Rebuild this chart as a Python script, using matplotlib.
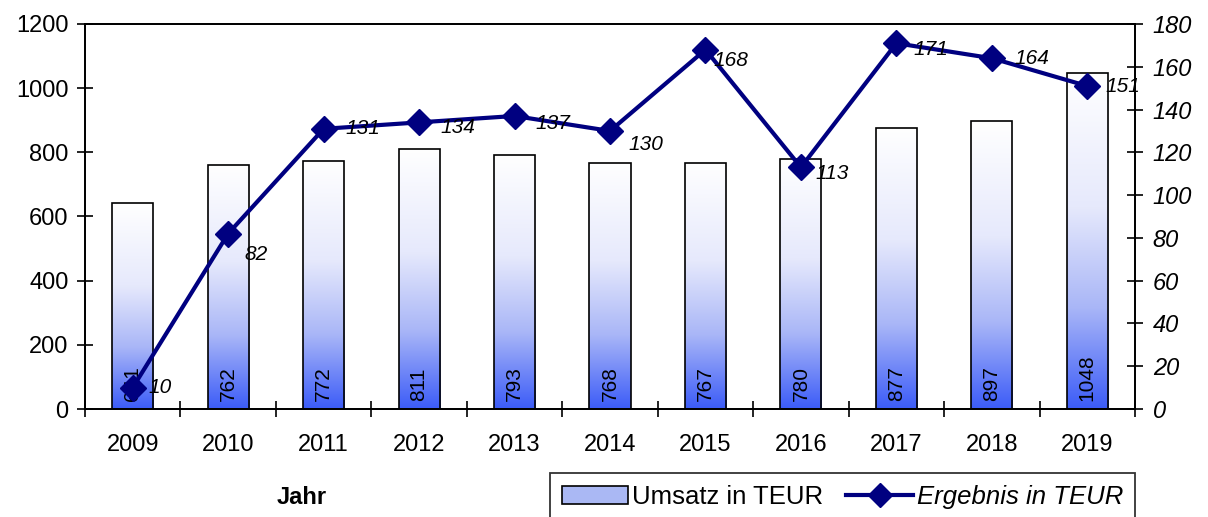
import matplotlib
matplotlib.use("Agg")
import matplotlib.pyplot as plt
import numpy as np
from matplotlib.colors import LinearSegmentedColormap
from matplotlib.patches import Patch
from matplotlib.lines import Line2D

plt.rcParams['font.family'] = ['Liberation Sans', 'DejaVu Sans']

years = ['2009', '2010', '2011', '2012', '2013', '2014', '2015', '2016', '2017', '2018', '2019']
umsatz = [641, 762, 772, 811, 793, 768, 767, 780, 877, 897, 1048]
ergebnis = [10, 82, 131, 134, 137, 130, 168, 113, 171, 164, 151]

# label offsets from marker centre, in pixels (dx to label left edge, dy downwards)
label_dx = [16, 16, 22, 21, 21, 18, 8, 15, 17, 23, 18]
label_dy = [0, 21, 0, 5, 8, 14, 11, 6, 6, 0, 0]

W, H = 1208, 517
fig = plt.figure(figsize=(W / 100, H / 100), dpi=100)
ax = fig.add_axes([85 / W, 1 - 409 / H, (1135 - 85) / W, (409 - 24) / H])
ax2 = ax.twinx()

x = np.arange(len(years))
bw = 0.43
cmap = LinearSegmentedColormap.from_list(
    'g', [(0.0, '#ffffff'), (0.4, '#e6e9fc'), (0.7, '#a9b6f7'), (1.0, '#3c5cf8')])
grad = np.linspace(0, 1, 256).reshape(-1, 1)
bars = ax.bar(x, umsatz, width=bw, facecolor='none', edgecolor='black', linewidth=1.2, zorder=3)
for b in bars:
    x0, y0, w, h = b.get_x(), b.get_y(), b.get_width(), b.get_height()
    im = ax.imshow(grad, cmap=cmap, aspect='auto', extent=(x0, x0 + w, y0, y0 + h),
                   origin='upper', zorder=2)
    im.set_clip_path(b)
for xi, v in zip(x, umsatz):
    ax.text(xi, 25, str(v), rotation=90, ha='center', va='bottom', fontsize=15, zorder=4)

ax.set_xlim(-0.5, len(years) - 0.5)
ax.set_ylim(0, 1200)
ax.set_yticks(range(0, 1201, 200))
ax.set_xticks(x)
ax.set_xticklabels(years)
ax.set_xticks(np.arange(-0.5, len(years) - 0.4, 1), minor=True)
ax.tick_params(axis='x', which='major', length=0, pad=18, labelsize=17)
ax.tick_params(axis='x', which='minor', length=11, direction='inout', width=1.2)
ax.tick_params(axis='y', length=11.5, direction='inout', width=1.2, labelsize=17, pad=6)

ax2.set_ylim(0, 180)
ax2.set_yticks(range(0, 181, 20))
ax2.tick_params(axis='y', length=11.5, direction='inout', width=1.2, labelsize=17, pad=7)
for lab in ax2.get_yticklabels():
    lab.set_fontstyle('italic')

ax2.plot(x, ergebnis, color='#000080', linewidth=3, marker='D', markersize=13, zorder=5)
for xi, v, dx, dy in zip(x, ergebnis, label_dx, label_dy):
    ax2.annotate(str(v), (xi, v), xytext=(dx * 0.72, -dy * 0.72), textcoords='offset points',
                 ha='left', va='center', fontsize=15, fontstyle='italic', zorder=6)

for a in (ax, ax2):
    for s in a.spines.values():
        s.set_linewidth(1.3)
        s.set_color('black')

ax.set_zorder(1)
ax2.set_zorder(2)
ax2.patch.set_visible(False)

fig.text(302 / W, 1 - 497 / H, 'Jahr', ha='center', va='center', fontsize=17, fontweight='bold')

handles = [Patch(facecolor='#aab8f4', edgecolor='black', linewidth=1.2),
           Line2D([0], [0], color='#000080', linewidth=3, marker='D', markersize=12)]
leg = fig.legend(handles, ['Umsatz in TEUR', 'Ergebnis in TEUR'], loc='upper left',
                 bbox_to_anchor=(550 / W, 1 - 473 / H), ncol=2, frameon=True, fancybox=False,
                 fontsize=18.5, handlelength=2.6, columnspacing=0.9, handletextpad=0.15,
                 borderaxespad=0, borderpad=0.45)
leg.get_frame().set_edgecolor('black')
leg.get_frame().set_linewidth(1.3)
leg.get_texts()[1].set_fontstyle('italic')

fig.savefig('out.png', dpi=100)
